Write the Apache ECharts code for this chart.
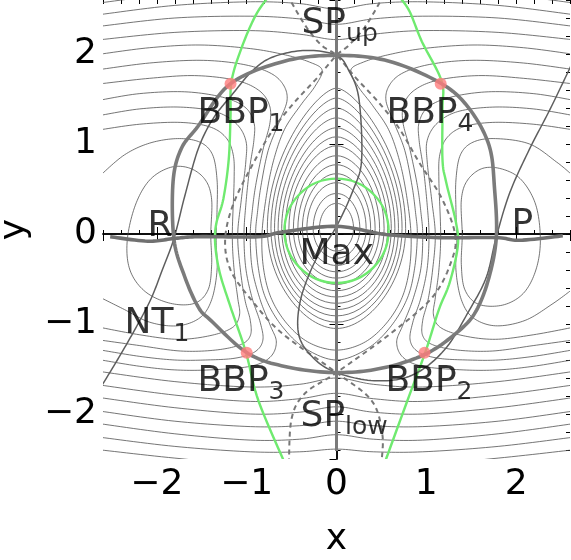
<!DOCTYPE html>
<html><head><meta charset="utf-8">
<script src="https://cdn.jsdelivr.net/npm/echarts/dist/echarts.min.js"></script>
<style>html,body{margin:0;padding:0;background:#fff}#c{width:571px;height:560px}</style>
</head><body><div id="c"></div>
<script>
// ---- Level curves ----
// Closed curves around the maximum: [half width, top, bottom, y of widest point, top roundness]
const ringsMax = [
  [0.77, 1.62, -1.05, 0.06, 0.25], [0.73, 1.51, -0.98, 0.06, 0.28], [0.69, 1.40, -0.91, 0.06, 0.31],
  [0.65, 1.29, -0.84, 0.06, 0.34], [0.61, 1.18, -0.77, 0.06, 0.37], [0.57, 1.08, -0.70, 0.06, 0.40],
  [0.53, 0.98, -0.63, 0.06, 0.43], [0.48, 0.87, -0.56, 0.06, 0.46], [0.43, 0.77, -0.49, 0.06, 0.49],
  [0.38, 0.67, -0.42, 0.06, 0.52], [0.33, 0.57, -0.35, 0.06, 0.55], [0.26, 0.45, -0.27, 0.06, 0.55],
  [0.19, 0.34, -0.19, 0.06, 0.55]
];
const greenCircle = [[0.58, 0.615, -0.545, 0.035, 0.55]];

// Innermost closed curves around R and P
const loopR1 = [[-1.40,-0.01],[-1.39,0.38],[-1.46,0.60],[-1.63,0.73],[-1.85,0.74],[-2.08,0.60],[-2.24,0.32],[-2.33,-0.07],[-2.30,-0.40],[-2.13,-0.64],[-1.85,-0.77],[-1.58,-0.77],[-1.43,-0.62],[-1.39,-0.34]];
const loopP1 = [[1.40,-0.01],[1.39,0.38],[1.46,0.60],[1.63,0.73],[1.85,0.72],[2.06,0.60],[2.22,0.32],[2.27,-0.07],[2.22,-0.40],[2.08,-0.66],[1.85,-0.79],[1.58,-0.78],[1.43,-0.62],[1.39,-0.34]];

// Curves around R, cut by the left border
const basinR2 = [[-2.62,0.66],[-2.36,0.88],[-2.08,1.01],[-1.77,1.06],[-1.52,1.02],[-1.38,0.88],[-1.33,0.60],[-1.33,0.27],[-1.34,-0.07],[-1.33,-0.40],[-1.39,-0.73],[-1.52,-0.93],[-1.77,-1.02],[-2.08,-0.98],[-2.36,-0.84],[-2.62,-0.71]];
const basinR3 = [[-2.62,1.16],[-2.19,1.22],[-1.74,1.24],[-1.41,1.19],[-1.23,1.07],[-1.15,0.88],[-1.14,0.60],[-1.16,-0.01],[-1.14,-0.40],[-1.10,-0.71],[-1.08,-0.90],[-1.16,-1.04],[-1.41,-1.13],[-1.77,-1.17],[-2.19,-1.12],[-2.62,-1.04]];
const basinR4 = [[-2.62,1.32],[-2.19,1.39],[-1.74,1.41],[-1.35,1.36],[-1.12,1.23],[-1.01,1.04],[-1.01,0.80],[-1.06,0.38],[-1.10,-0.01],[-1.07,-0.40],[-1.02,-0.73],[-0.96,-0.96],[-0.96,-1.13],[-1.07,-1.23],[-1.35,-1.29],[-1.74,-1.30],[-2.19,-1.24],[-2.62,-1.18]];
const basinR5 = [[-2.62,1.49],[-2.19,1.56],[-1.69,1.58],[-1.27,1.52],[-1.02,1.41],[-0.92,1.24],[-0.92,1.04],[-0.97,0.71],[-1.01,0.32],[-1.03,-0.01],[-1.01,-0.38],[-0.94,-0.71],[-0.85,-0.98],[-0.82,-1.18],[-0.91,-1.31],[-1.13,-1.38],[-1.46,-1.40],[-1.80,-1.40],[-2.19,-1.36],[-2.62,-1.29]];
const basinR6 = [[-2.62,1.67],[-2.08,1.73],[-1.58,1.76],[-1.13,1.71],[-0.87,1.60],[-0.75,1.44],[-0.74,1.24],[-0.82,0.93],[-0.90,0.54],[-0.94,0.24],[-0.96,-0.01],[-0.94,-0.38],[-0.85,-0.73],[-0.74,-1.01],[-0.67,-1.20],[-0.74,-1.37],[-0.96,-1.47],[-1.41,-1.51],[-1.80,-1.51],[-2.19,-1.47],[-2.62,-1.40]];

// Curves around P, cut by the right border
const basinP2 = [[2.62,0.66],[2.45,0.80],[2.15,1.00],[1.77,1.06],[1.52,1.02],[1.38,0.88],[1.33,0.60],[1.33,0.27],[1.34,-0.07],[1.33,-0.40],[1.39,-0.73],[1.52,-0.93],[1.77,-1.02],[2.10,-0.96],[2.40,-0.78],[2.62,-0.62]];
const basinP3 = [[2.62,1.16],[2.19,1.22],[1.74,1.24],[1.41,1.19],[1.23,1.07],[1.15,0.88],[1.14,0.60],[1.16,-0.01],[1.14,-0.40],[1.10,-0.71],[1.08,-0.90],[1.16,-1.04],[1.41,-1.13],[1.77,-1.17],[2.19,-1.12],[2.62,-1.04]];
const basinP4 = [[2.62,1.32],[2.19,1.39],[1.74,1.41],[1.35,1.36],[1.12,1.23],[1.01,1.04],[1.01,0.80],[1.06,0.38],[1.10,-0.01],[1.07,-0.40],[1.02,-0.73],[0.96,-0.96],[0.96,-1.13],[1.07,-1.23],[1.35,-1.29],[1.74,-1.30],[2.19,-1.24],[2.62,-1.18]];
const basinP5 = [[2.62,1.49],[2.19,1.56],[1.69,1.58],[1.27,1.52],[1.02,1.41],[0.92,1.24],[0.92,1.04],[0.97,0.71],[1.01,0.32],[1.03,-0.01],[1.01,-0.38],[0.94,-0.71],[0.85,-0.98],[0.82,-1.18],[0.91,-1.31],[1.13,-1.38],[1.46,-1.40],[1.80,-1.40],[2.19,-1.36],[2.62,-1.29]];
const basinP6 = [[2.62,1.67],[2.08,1.73],[1.58,1.76],[1.13,1.71],[0.87,1.60],[0.75,1.44],[0.74,1.24],[0.82,0.93],[0.90,0.54],[0.94,0.24],[0.96,-0.01],[0.94,-0.38],[0.85,-0.73],[0.74,-1.01],[0.67,-1.20],[0.74,-1.37],[0.96,-1.47],[1.41,-1.51],[1.80,-1.51],[2.19,-1.47],[2.62,-1.40]];

// Curves wrapping the maximum from below (upper part) and passing under SP_low (lower part)
const wrapA = [[-2.62,1.83],[-2.08,1.90],[-1.52,1.93],[-1.07,1.89],[-0.76,1.80],[-0.60,1.67],[-0.55,1.49],[-0.64,1.24],[-0.76,0.93],[-0.84,0.54],[-0.88,0.24],[-0.90,-0.01],[-0.87,-0.38],[-0.79,-0.71],[-0.61,-1.02],[-0.35,-1.27],[0,-1.40],[0.35,-1.27],[0.61,-1.02],[0.79,-0.71],[0.87,-0.38],[0.90,-0.01],[0.88,0.24],[0.84,0.54],[0.76,0.93],[0.64,1.24],[0.55,1.49],[0.60,1.67],[0.76,1.80],[1.07,1.89],[1.52,1.93],[2.08,1.90],[2.62,1.83]];
const wrapB = [[-2.62,2.00],[-2.08,2.07],[-1.52,2.10],[-0.96,2.06],[-0.57,1.99],[-0.30,1.91],[-0.16,1.82],[-0.24,1.64],[-0.40,1.43],[-0.58,1.16],[-0.70,0.82],[-0.78,0.43],[-0.83,-0.01],[-0.81,-0.40],[-0.72,-0.73],[-0.54,-1.01],[-0.30,-1.21],[0,-1.29],[0.30,-1.21],[0.54,-1.01],[0.72,-0.73],[0.81,-0.40],[0.83,-0.01],[0.78,0.43],[0.70,0.82],[0.58,1.16],[0.40,1.43],[0.24,1.64],[0.16,1.82],[0.30,1.91],[0.57,1.99],[0.96,2.06],[1.52,2.10],[2.08,2.07],[2.62,2.00]];
const lowA = [[-2.62,-1.53],[-1.80,-1.64],[-0.96,-1.70],[-0.41,-1.67],[0,-1.60],[0.41,-1.67],[0.96,-1.70],[1.80,-1.64],[2.62,-1.53]];
const lowB = [[-2.62,-1.68],[-1.80,-1.79],[-0.96,-1.86],[-0.41,-1.83],[0,-1.77],[0.41,-1.83],[0.96,-1.86],[1.80,-1.79],[2.62,-1.68]];

// Outer curves passing above SP_up and below SP_low
const outerTop1 = [[-2.62,2.16],[-1.80,2.24],[-0.96,2.26],[-0.41,2.22],[0,2.16],[0.41,2.22],[0.96,2.26],[1.80,2.24],[2.62,2.16]];
const outerTop2 = [[-2.62,2.31],[-1.80,2.40],[-0.96,2.42],[-0.41,2.39],[0,2.33],[0.41,2.39],[0.96,2.42],[1.80,2.40],[2.62,2.31]];
const outerTop3 = [[-2.62,2.44],[-1.80,2.54],[-0.96,2.58],[-0.41,2.56],[0,2.50],[0.41,2.56],[0.96,2.58],[1.80,2.54],[2.62,2.44]];
const outerTop4 = [[-2.62,2.57],[-1.80,2.67],[-0.96,2.72],[0,2.66],[0.96,2.72],[1.80,2.67],[2.62,2.57]];
const outerLow1 = [[-2.62,-1.82],[-1.80,-1.93],[-0.96,-2.00],[-0.41,-1.98],[0,-1.92],[0.41,-1.98],[0.96,-2.00],[1.80,-1.93],[2.62,-1.82]];
const outerLow2 = [[-2.62,-1.97],[-1.80,-2.08],[-0.96,-2.14],[-0.41,-2.13],[0,-2.08],[0.41,-2.13],[0.96,-2.14],[1.80,-2.08],[2.62,-1.97]];
const outerLow3 = [[-2.62,-2.11],[-1.80,-2.22],[-0.96,-2.29],[-0.41,-2.28],[0,-2.23],[0.41,-2.28],[0.96,-2.29],[1.80,-2.22],[2.62,-2.11]];
const outerLow4 = [[-2.62,-2.26],[-1.80,-2.36],[-0.96,-2.42],[-0.41,-2.42],[0,-2.39],[0.41,-2.42],[0.96,-2.42],[1.80,-2.36],[2.62,-2.26]];
const outerLow5 = [[-2.62,-2.40],[-1.80,-2.49],[-0.96,-2.56],[0,-2.54],[0.96,-2.56],[1.80,-2.49],[2.62,-2.40]];

// ---- Thick gray curves ----
const thickEllipse = [[0,1.985],[0.585,1.92],[1.17,1.67],[1.48,1.39],[1.70,0.98],[1.76,0.50],[1.78,-0.03],[1.70,-0.475],[1.56,-0.845],[1.37,-1.07],[1.00,-1.33],[0.51,-1.49],[0,-1.54],[-0.535,-1.48],[-0.98,-1.33],[-1.40,-0.96],[-1.54,-0.81],[-1.69,-0.475],[-1.81,-0.06],[-1.82,0.58],[-1.73,0.945],[-1.54,1.20],[-1.18,1.67],[-0.58,1.92]];
const thickHorizontal = [[-2.52,-0.03],[-2.10,-0.08],[-1.81,-0.05],[-1.54,-0.03],[-0.87,-0.03],[-0.61,0.02],[0,0.085],[0.55,-0.005],[1.14,-0.04],[1.78,-0.04],[2.04,-0.07],[2.52,-0.02]];
const thickVertical = [[0,2.7],[0,-2.41]];

// ---- Thin curve NT1 ----
const nt1 = [[-2.66,-1.76],[-2.44,-1.40],[-2.25,-1.07],[-2.07,-0.73],[-1.94,-0.40],[-1.81,-0.05],[-1.69,0.42],[-1.54,0.945],[-1.375,1.28],[-1.17,1.54],[-0.93,1.82],[-0.70,1.97],[-0.345,2.04],[0,1.985],[0.14,1.81],[0.25,1.50],[0.28,0.83],[0.19,0.50],[0,0.085],[-0.23,-0.285],[-0.40,-0.73],[-0.42,-1.12],[-0.255,-1.38],[0,-1.54],[0.42,-1.63],[0.84,-1.57],[1.20,-1.29],[1.48,-0.845],[1.67,-0.475],[1.78,-0.03],[1.93,0.46],[2.15,0.945],[2.38,1.39],[2.64,1.93]];

// ---- Dashed curves through the saddle points ----
const dashA = [[-0.55,2.66],[-0.35,2.32],[-0.17,2.10],[0,1.985],[0.22,1.73],[0.48,1.45],[0.70,1.17],[0.93,0.78],[1.17,0.40],[1.32,0.0],[1.28,-0.30],[1.07,-0.70],[0.61,-1.10],[0,-1.54],[-0.35,-1.77],[-0.50,-2.05],[-0.53,-2.55]];
const dashB = [[0.53,2.66],[0.33,2.32],[0.14,2.10],[0,1.985],[-0.22,1.73],[-0.48,1.45],[-0.70,1.17],[-0.93,0.78],[-1.15,0.33],[-1.24,-0.06],[-1.18,-0.40],[-0.95,-0.73],[-0.61,-1.10],[0,-1.54],[0.39,-1.85],[0.51,-2.22],[0.50,-2.55]];

// ---- Green curves ----
const greenLeft = [[-0.74,2.66],[-0.90,2.43],[-1.06,2.06],[-1.17,1.69],[-1.18,1.31],[-1.20,0.83],[-1.26,0.39],[-1.34,0.11],[-1.35,-0.12],[-1.30,-0.43],[-1.18,-0.81],[-1.01,-1.31],[-0.87,-1.85],[-0.57,-2.56]];
const greenRight = [[0.68,2.66],[0.81,2.48],[0.95,2.14],[1.17,1.70],[1.18,1.39],[1.18,0.83],[1.22,0.58],[1.33,0.13],[1.35,-0.14],[1.26,-0.54],[1.14,-0.84],[0.99,-1.31],[0.79,-1.85],[0.53,-2.56]];

// ---- Branching points ----
const bbpPoints = [[-1.18,1.67],[1.16,1.67],[-1.00,-1.32],[0.98,-1.32]];

// ---- Text labels: [x, y, main, subscript] ----
const labels = [
  [-0.384, 2.528, 'SP', 'up'], [-1.542, 1.528, 'BBP', '1'], [0.562, 1.528, 'BBP', '4'],
  [-1.542, -1.45, 'BBP', '3'], [0.551, -1.45, 'BBP', '2'], [-0.395, -1.839, 'SP', 'low'],
  [-2.355, -0.806, 'NT', '1'], [-2.099, 0.272, 'R', ''], [1.954, 0.294, 'P', ''], [-0.406, -0.039, 'Max', '']
];

const FONT = 'DejaVu Sans';
const chart = echarts.init(document.getElementById('c'), null, {renderer: 'canvas'});

// Catmull-Rom spline through pixel points
function splinePoints(p, closed) {
  const n = p.length, out = [];
  const get = i => closed ? p[(i + n) % n] : p[Math.max(0, Math.min(n - 1, i))];
  const segs = closed ? n : n - 1, STEPS = 12;
  for (let i = 0; i < segs; i++) {
    const p0 = get(i - 1), p1 = get(i), p2 = get(i + 1), p3 = get(i + 2);
    for (let s = 0; s < STEPS; s++) {
      const t = s / STEPS, t2 = t * t, t3 = t2 * t;
      const f = k => 0.5 * (2 * p1[k] + (-p0[k] + p2[k]) * t + (2 * p0[k] - 5 * p1[k] + 4 * p2[k] - p3[k]) * t2 + (-p0[k] + 3 * p1[k] - 3 * p2[k] + p3[k]) * t3);
      out.push([f(0), f(1)]);
    }
  }
  out.push(closed ? out[0] : p[n - 1]);
  return out;
}

function clipRect(params) {
  const cs = params.coordSys;
  return {type: 'rect', shape: {x: cs.x, y: cs.y, width: cs.width, height: cs.height}};
}

function curveSeries(curves, style, closed, z) {
  return {
    type: 'custom', coordinateSystem: 'cartesian2d', xAxisIndex: 0, yAxisIndex: 0,
    silent: true, z: z, clip: true,
    data: curves.map((c, i) => [c[0][0], c[0][1], i]),
    encode: {x: 0, y: 1},
    renderItem: function (params, api) {
      const c = curves[api.value(2)];
      const px = c.map(p => api.coord(p));
      return {
        type: 'polyline', clipPath: clipRect(params),
        shape: {points: splinePoints(px, closed)},
        style: Object.assign({fill: null}, style)
      };
    }
  };
}

function ringSeries(rings, style, z) {
  return {
    type: 'custom', coordinateSystem: 'cartesian2d', xAxisIndex: 0, yAxisIndex: 0,
    silent: true, z: z, clip: true,
    data: rings.map(r => [r[0], r[3], r[0], r[1], r[2], r[3], r[4]]),
    encode: {x: 0, y: 1},
    renderItem: function (params, api) {
      const a = api.value(2), yt = api.value(3), yb = api.value(4), yw = api.value(5), kt = api.value(6);
      const kb = Math.min(0.55, kt + 0.2), ks = 0.55;
      const R = api.coord([a, yw]), L = api.coord([-a, yw]);
      const T = api.coord([0, yt]), B = api.coord([0, yb]);
      const cx = (R[0] + L[0]) / 2, hw = (R[0] - L[0]) / 2;
      const st = Object.assign({fill: null}, style);
      const seg = (p0, c1, c2, p1) => ({type: 'bezierCurve', shape: {x1: p0[0], y1: p0[1], cpx1: c1[0], cpy1: c1[1], cpx2: c2[0], cpy2: c2[1], x2: p1[0], y2: p1[1]}, style: st});
      return {type: 'group', clipPath: clipRect(params), children: [
        seg(R, [R[0], R[1] - ks * (R[1] - T[1])], [cx + kt * hw, T[1]], [cx, T[1]]),
        seg([cx, T[1]], [cx - kt * hw, T[1]], [L[0], L[1] - ks * (L[1] - T[1])], L),
        seg(L, [L[0], L[1] + ks * (B[1] - L[1])], [cx - kb * hw, B[1]], [cx, B[1]]),
        seg([cx, B[1]], [cx + kb * hw, B[1]], [R[0], R[1] + ks * (B[1] - R[1])], R)
      ]};
    }
  };
}

const thinStyle = {stroke: '#4a4a4a', lineWidth: 0.9, opacity: 0.85};
const greenStyle = {stroke: '#6fea6f', lineWidth: 2.4};
const openContours = [basinR2, basinR3, basinR4, basinR5, basinR6, basinP2, basinP3, basinP4, basinP5, basinP6,
  wrapA, wrapB, lowA, lowB, outerTop1, outerTop2, outerTop3, outerTop4,
  outerLow1, outerLow2, outerLow3, outerLow4, outerLow5];

const series = [
  ringSeries(ringsMax, thinStyle, 1),
  curveSeries([loopR1, loopP1], thinStyle, true, 1),
  curveSeries(openContours, thinStyle, false, 1),
  curveSeries([greenLeft, greenRight], greenStyle, false, 2),
  ringSeries(greenCircle, greenStyle, 2),
  curveSeries([dashA, dashB], {stroke: '#777', lineWidth: 2, lineDash: [5, 4]}, false, 3),
  curveSeries([nt1], {stroke: '#5e5e5e', lineWidth: 1.5}, false, 3),
  curveSeries([thickEllipse], {stroke: '#7b7b7b', lineWidth: 3.6}, true, 4),
  curveSeries([thickHorizontal], {stroke: '#707070', lineWidth: 3.6}, false, 4),
  curveSeries([thickVertical], {stroke: '#7b7b7b', lineWidth: 3}, false, 4),
  {type: 'scatter', data: bbpPoints, symbolSize: 12, itemStyle: {color: '#ff7d7d'}, xAxisIndex: 0, yAxisIndex: 0, silent: true, z: 5},
  {
    type: 'scatter', xAxisIndex: 0, yAxisIndex: 0, silent: true, z: 6, symbolSize: 1,
    itemStyle: {color: 'rgba(0,0,0,0)'},
    data: labels.map(l => ({value: [l[0], l[1]], main: l[2], sub: l[3]})),
    label: {
      show: true, position: [0, 0], align: 'left', verticalAlign: 'top', color: '#000',
      formatter: p => '{m|' + p.data.main + '}' + (p.data.sub ? '{s|' + p.data.sub + '}' : ''),
      rich: {
        m: {fontFamily: FONT, fontSize: 36, lineHeight: 36, color: '#000', verticalAlign: 'top'},
        s: {fontFamily: FONT, fontSize: 25, lineHeight: 25, color: '#000', padding: [16, 0, 0, 0], verticalAlign: 'top'}
      }
    }
  }
];

const minus = v => (v < 0 ? '\u2212' + Math.abs(v) : String(v));
const labelStyle = {fontFamily: FONT, fontSize: 36, color: '#000'};
const axLine = {show: true, lineStyle: {color: '#000', width: 1.5}};
const majorTick = {inside: true, length: 7, lineStyle: {color: '#000', width: 1}};
const minorTick = {inside: true, length: 4, lineStyle: {color: '#000', width: 1}};
const gridBase = {containLabel: false, outerBoundsMode: 'none'};

chart.setOption({
  animation: false,
  backgroundColor: '#fff',
  grid: [
    Object.assign({left: 103, right: 1, top: 0, bottom: 101}, gridBase),
    Object.assign({left: 103, right: 1, top: 0, bottom: 101}, gridBase),
    Object.assign({left: 103, right: 1, top: 0, height: 450}, gridBase)
  ],
  xAxis: [
    {type: 'value', gridIndex: 0, min: -2.6, max: 2.6, position: 'bottom', axisLine: axLine,
     axisTick: majorTick, splitLine: {show: false},
     axisLabel: Object.assign({margin: 8, showMinLabel: false, showMaxLabel: false, formatter: minus}, labelStyle),
     name: 'x', nameLocation: 'middle', nameGap: 63, nameTextStyle: {fontFamily: FONT, fontSize: 36, color: '#000'}},
    {type: 'value', gridIndex: 0, min: -2.6, max: 2.6, position: 'top', axisLine: axLine,
     axisTick: majorTick, splitLine: {show: false}, axisLabel: {show: false}},
    {type: 'value', gridIndex: 1, min: -2.6, max: 2.6, interval: 0.2, position: 'bottom', axisLine: {show: false},
     axisTick: minorTick, splitLine: {show: false}, axisLabel: {show: false}},
    {type: 'value', gridIndex: 1, min: -2.6, max: 2.6, interval: 0.2, position: 'top', axisLine: {show: false},
     axisTick: minorTick, splitLine: {show: false}, axisLabel: {show: false}},
    {type: 'value', gridIndex: 2, min: -2.6, max: 2.6, show: false}
  ],
  yAxis: [
    {type: 'value', gridIndex: 0, min: -2.5, max: 2.6, position: 'left', axisLine: axLine,
     axisTick: majorTick, splitLine: {show: false},
     axisLabel: Object.assign({margin: 6, showMinLabel: false, showMaxLabel: false, formatter: minus}, labelStyle),
     name: 'y', nameLocation: 'middle', nameGap: 67, nameTextStyle: {fontFamily: FONT, fontSize: 36, color: '#000'}},
    {type: 'value', gridIndex: 0, min: -2.5, max: 2.6, position: 'right', axisLine: axLine,
     axisTick: majorTick, splitLine: {show: false}, axisLabel: {show: false}},
    {type: 'value', gridIndex: 2, min: -2.4, max: 2.6, interval: 0.2, position: 'left', axisLine: {show: false},
     axisTick: minorTick, splitLine: {show: false}, axisLabel: {show: false}},
    {type: 'value', gridIndex: 2, min: -2.4, max: 2.6, interval: 0.2, position: 'right', axisLine: {show: false},
     axisTick: minorTick, splitLine: {show: false}, axisLabel: {show: false}},
    {type: 'value', gridIndex: 1, min: -2.5, max: 2.6, show: false}
  ],
  series: series
});
</script></body></html>
